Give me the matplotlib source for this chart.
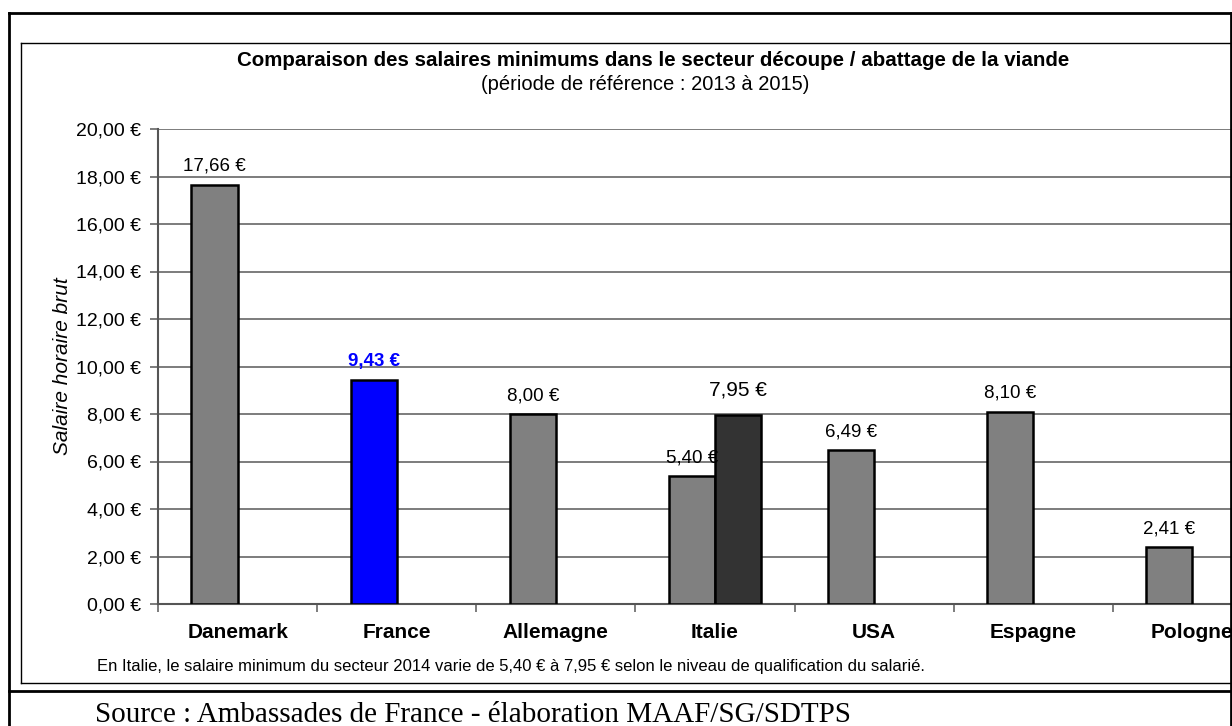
import matplotlib
matplotlib.use("Agg")
import matplotlib.pyplot as plt
from matplotlib.lines import Line2D
import numpy as np

plt.rcParams["font.family"] = ["Liberation Sans", "DejaVu Sans"]

W, H = 1232, 726

# data
pays = ["Danemark", "France", "Allemagne", "Italie", "USA", "Espagne", "Pologne"]
salaire_min = [17.66, 9.43, 8.00, 5.40, 6.49, 8.10, 2.41]
salaire_max = [None, None, None, 7.95, None, None, None]
couleurs_min = ["#808080", "#0000ff", "#808080", "#808080", "#808080", "#808080", "#808080"]
yticks = [0, 2, 4, 6, 8, 10, 12, 14, 16, 18, 20]

title = "Comparaison des salaires minimums dans le secteur découpe / abattage de la viande"
subtitle = "(période de référence : 2013 à 2015)"
note = ("En Italie, le salaire minimum du secteur 2014 varie de 5,40 € à 7,95 € "
        "selon le niveau de qualification du salarié.")
source = "Source : Ambassades de France - élaboration MAAF/SG/SDTPS"


def eur(v):
    return f"{v:.2f} €".replace(".", ",")


def fx(x):
    return x / W


def fy(y):
    return 1 - y / H


fig = plt.figure(figsize=(W / 100, H / 100), dpi=100)

# plot area (clipped on the right, as in the original document)
x0, x1, ytop, ybot = 158, 1272, 129, 604
ax = fig.add_axes([fx(x0), fy(ybot), (x1 - x0) / W, (ybot - ytop) / H])

x = np.arange(len(pays))
bw = 0.29
ax.bar(x - bw / 2, salaire_min, width=bw, color=couleurs_min,
       edgecolor="black", linewidth=1.8, zorder=3)
it = [i for i, v in enumerate(salaire_max) if v is not None]
ax.bar(x[it] + bw / 2, [salaire_max[i] for i in it], width=bw, color="#333333",
       edgecolor="black", linewidth=1.8, zorder=3)

for i, v in enumerate(salaire_min):
    if pays[i] == "France":
        ax.annotate(eur(v), (x[i] - bw / 2, v), xytext=(0, 7), textcoords="offset points",
                    ha="center", va="bottom", fontsize=13.5, fontweight="bold", color="#0000ff")
    else:
        ax.annotate(eur(v), (x[i] - bw / 2, v), xytext=(0, 7), textcoords="offset points",
                    ha="center", va="bottom", fontsize=13.5)
for i in it:
    ax.annotate(eur(salaire_max[i]), (x[i] + bw / 2, salaire_max[i]), xytext=(0, 11),
                textcoords="offset points", ha="center", va="bottom", fontsize=15)

ax.set_xlim(-0.5, len(pays) - 0.5)
ax.set_ylim(0, 20)
ax.set_yticks(yticks)
ax.set_yticklabels([eur(t) for t in yticks], fontsize=14)
ax.yaxis.grid(True, color="#666666", linewidth=1.2, zorder=0)
ax.set_axisbelow(True)

ax.set_xticks(x)
ax.set_xticklabels(pays, fontsize=15, fontweight="bold")
ax.tick_params(axis="x", length=0, pad=14)
ax.set_xticks(np.arange(len(pays) + 1) - 0.5, minor=True)
ax.tick_params(axis="x", which="minor", length=6, color="#666666", width=1.2)
ax.tick_params(axis="y", length=6, color="#666666", width=1.2, pad=6)

for s in ["top", "right"]:
    ax.spines[s].set_visible(False)
ax.spines["left"].set_color("#555555")
ax.spines["left"].set_linewidth(1.5)
ax.spines["bottom"].set_color("#555555")
ax.spines["bottom"].set_linewidth(1.5)

fig.text(fx(62), fy(366), "Salaire horaire brut", rotation=90, ha="center", va="center",
         fontsize=15, style="italic")

# titles and notes
fig.text(fx(653), fy(61), title, ha="center", va="center", fontsize=14.8, fontweight="bold")
fig.text(fx(645), fy(84), subtitle, ha="center", va="center", fontsize=14.5)
fig.text(fx(97), fy(667), note, ha="left", va="center", fontsize=12)
fig.text(fx(95), fy(722), source, ha="left", va="baseline", fontsize=21,
         family=["Liberation Serif", "DejaVu Serif"])


def hline(y, xa, xb, lw):
    fig.add_artist(Line2D([fx(xa), fx(xb)], [fy(y), fy(y)], color="black", linewidth=lw))


def vline(x_, ya, yb, lw):
    fig.add_artist(Line2D([fx(x_), fx(x_)], [fy(ya), fy(yb)], color="black", linewidth=lw))


# outer frame
hline(12.5, 8.5, 1231, 2)
vline(8.5, 12.5, 726, 2)
vline(1230.5, 12.5, 726, 2)
hline(690.5, 8.5, 1231, 2)
# inner chart box
hline(43, 21, 1231, 1)
hline(683, 21, 1231, 1)
vline(21, 43, 683, 1)

fig.savefig("out.png", dpi=100)
